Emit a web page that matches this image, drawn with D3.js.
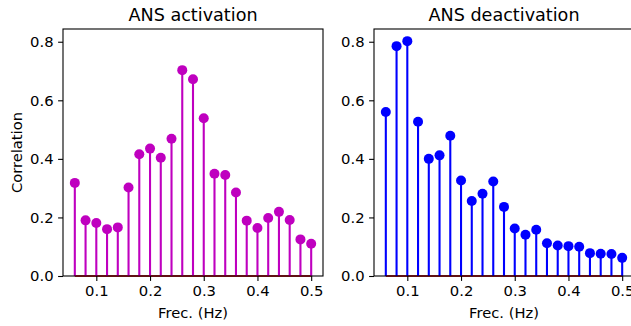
<!DOCTYPE html>
<html>
<head>
<meta charset="utf-8">
<script src="https://cdn.jsdelivr.net/npm/d3@7"></script>
<style>
  html, body { margin: 0; padding: 0; background: #fff; }
  svg { display: block; font-family: "DejaVu Sans", sans-serif; }
</style>
</head>
<body>
<svg id="chart" width="631" height="326"></svg>
<script>
// ---- data ----
const freqs = [0.06, 0.08, 0.10, 0.12, 0.14, 0.16, 0.18, 0.20, 0.22, 0.24, 0.26, 0.28,
               0.30, 0.32, 0.34, 0.36, 0.38, 0.40, 0.42, 0.44, 0.46, 0.48, 0.50];
const activation = [0.318, 0.190, 0.181, 0.160, 0.166, 0.302, 0.416, 0.435, 0.404, 0.469,
                    0.703, 0.672, 0.539, 0.349, 0.345, 0.285, 0.189, 0.164, 0.198, 0.219,
                    0.191, 0.125, 0.110];
const deactivation = [0.560, 0.785, 0.802, 0.527, 0.400, 0.412, 0.479, 0.326, 0.256, 0.281,
                      0.323, 0.236, 0.162, 0.141, 0.158, 0.112, 0.104, 0.102, 0.100, 0.078,
                      0.076, 0.075, 0.062];
const titles = ["ANS activation", "ANS deactivation"];
const xTicks = [0.1, 0.2, 0.3, 0.4, 0.5];
const yTicks = [0.0, 0.2, 0.4, 0.6, 0.8];
const colors = ["#bf00bf", "#0000ff"];

const svg = d3.select("#chart");
const panels = [
  { left: 63, values: activation, title: titles[0], color: colors[0], ylabel: "Correlation" },
  { left: 374, values: deactivation, title: titles[1], color: colors[1], ylabel: null }
];
const W = 260, plotTop = 29, plotBottom = 276;
const xDomain = [0.038, 0.522];
const yDomain = [0, 0.8435];
const tickFont = "14.8px", labelFont = "14.7px", titleFont = "17.6px";

panels.forEach(p => {
  const x = d3.scaleLinear().domain(xDomain).range([p.left, p.left + W]);
  const y = d3.scaleLinear().domain(yDomain).range([plotBottom, plotTop]);
  const g = svg.append("g");

  // baseline
  g.append("line")
    .attr("x1", x(freqs[0])).attr("x2", x(freqs[freqs.length - 1]))
    .attr("y1", y(0)).attr("y2", y(0))
    .attr("stroke", "#d62728").attr("stroke-width", 2);

  // stems
  g.selectAll("line.stem").data(p.values).enter().append("line")
    .attr("class", "stem")
    .attr("x1", (d, i) => x(freqs[i])).attr("x2", (d, i) => x(freqs[i]))
    .attr("y1", y(0)).attr("y2", d => y(d))
    .attr("stroke", p.color).attr("stroke-width", 2.1);

  // markers
  g.selectAll("circle").data(p.values).enter().append("circle")
    .attr("cx", (d, i) => x(freqs[i])).attr("cy", d => y(d))
    .attr("r", 5).attr("fill", p.color);

  // axes
  const xAxis = d3.axisBottom(x).tickValues(xTicks).tickFormat(d3.format(".1f"))
    .tickSize(4.9).tickPadding(4.5);
  const yAxis = d3.axisLeft(y).tickValues(yTicks).tickFormat(d3.format(".1f"))
    .tickSize(4.9).tickPadding(4.5);

  const gx = g.append("g").attr("transform", `translate(0,${plotBottom})`).call(xAxis);
  const gy = g.append("g").attr("transform", `translate(${p.left},0)`).call(yAxis);
  [gx, gy].forEach(a => {
    a.select(".domain").remove();
    a.selectAll("line").attr("stroke", "#000").attr("stroke-width", 1.1);
    a.selectAll("text").attr("font-size", tickFont).attr("fill", "#000")
      .attr("font-family", "DejaVu Sans, sans-serif");
  });

  // frame
  g.append("rect")
    .attr("x", p.left).attr("y", plotTop).attr("width", W).attr("height", plotBottom - plotTop)
    .attr("fill", "none").attr("stroke", "#000").attr("stroke-width", 1.1);

  // title
  g.append("text")
    .attr("x", p.left + W / 2).attr("y", 21)
    .attr("text-anchor", "middle").attr("font-size", titleFont).attr("fill", "#000")
    .text(p.title);

  // x label
  g.append("text")
    .attr("x", p.left + W / 2).attr("y", 318)
    .attr("text-anchor", "middle").attr("font-size", labelFont).attr("fill", "#000")
    .text("Frec. (Hz)");

  if (p.ylabel) {
    g.append("text")
      .attr("transform", `translate(22,${(plotTop + plotBottom) / 2}) rotate(-90)`)
      .attr("text-anchor", "middle").attr("font-size", labelFont).attr("fill", "#000")
      .text(p.ylabel);
  }
});
</script>
</body>
</html>
